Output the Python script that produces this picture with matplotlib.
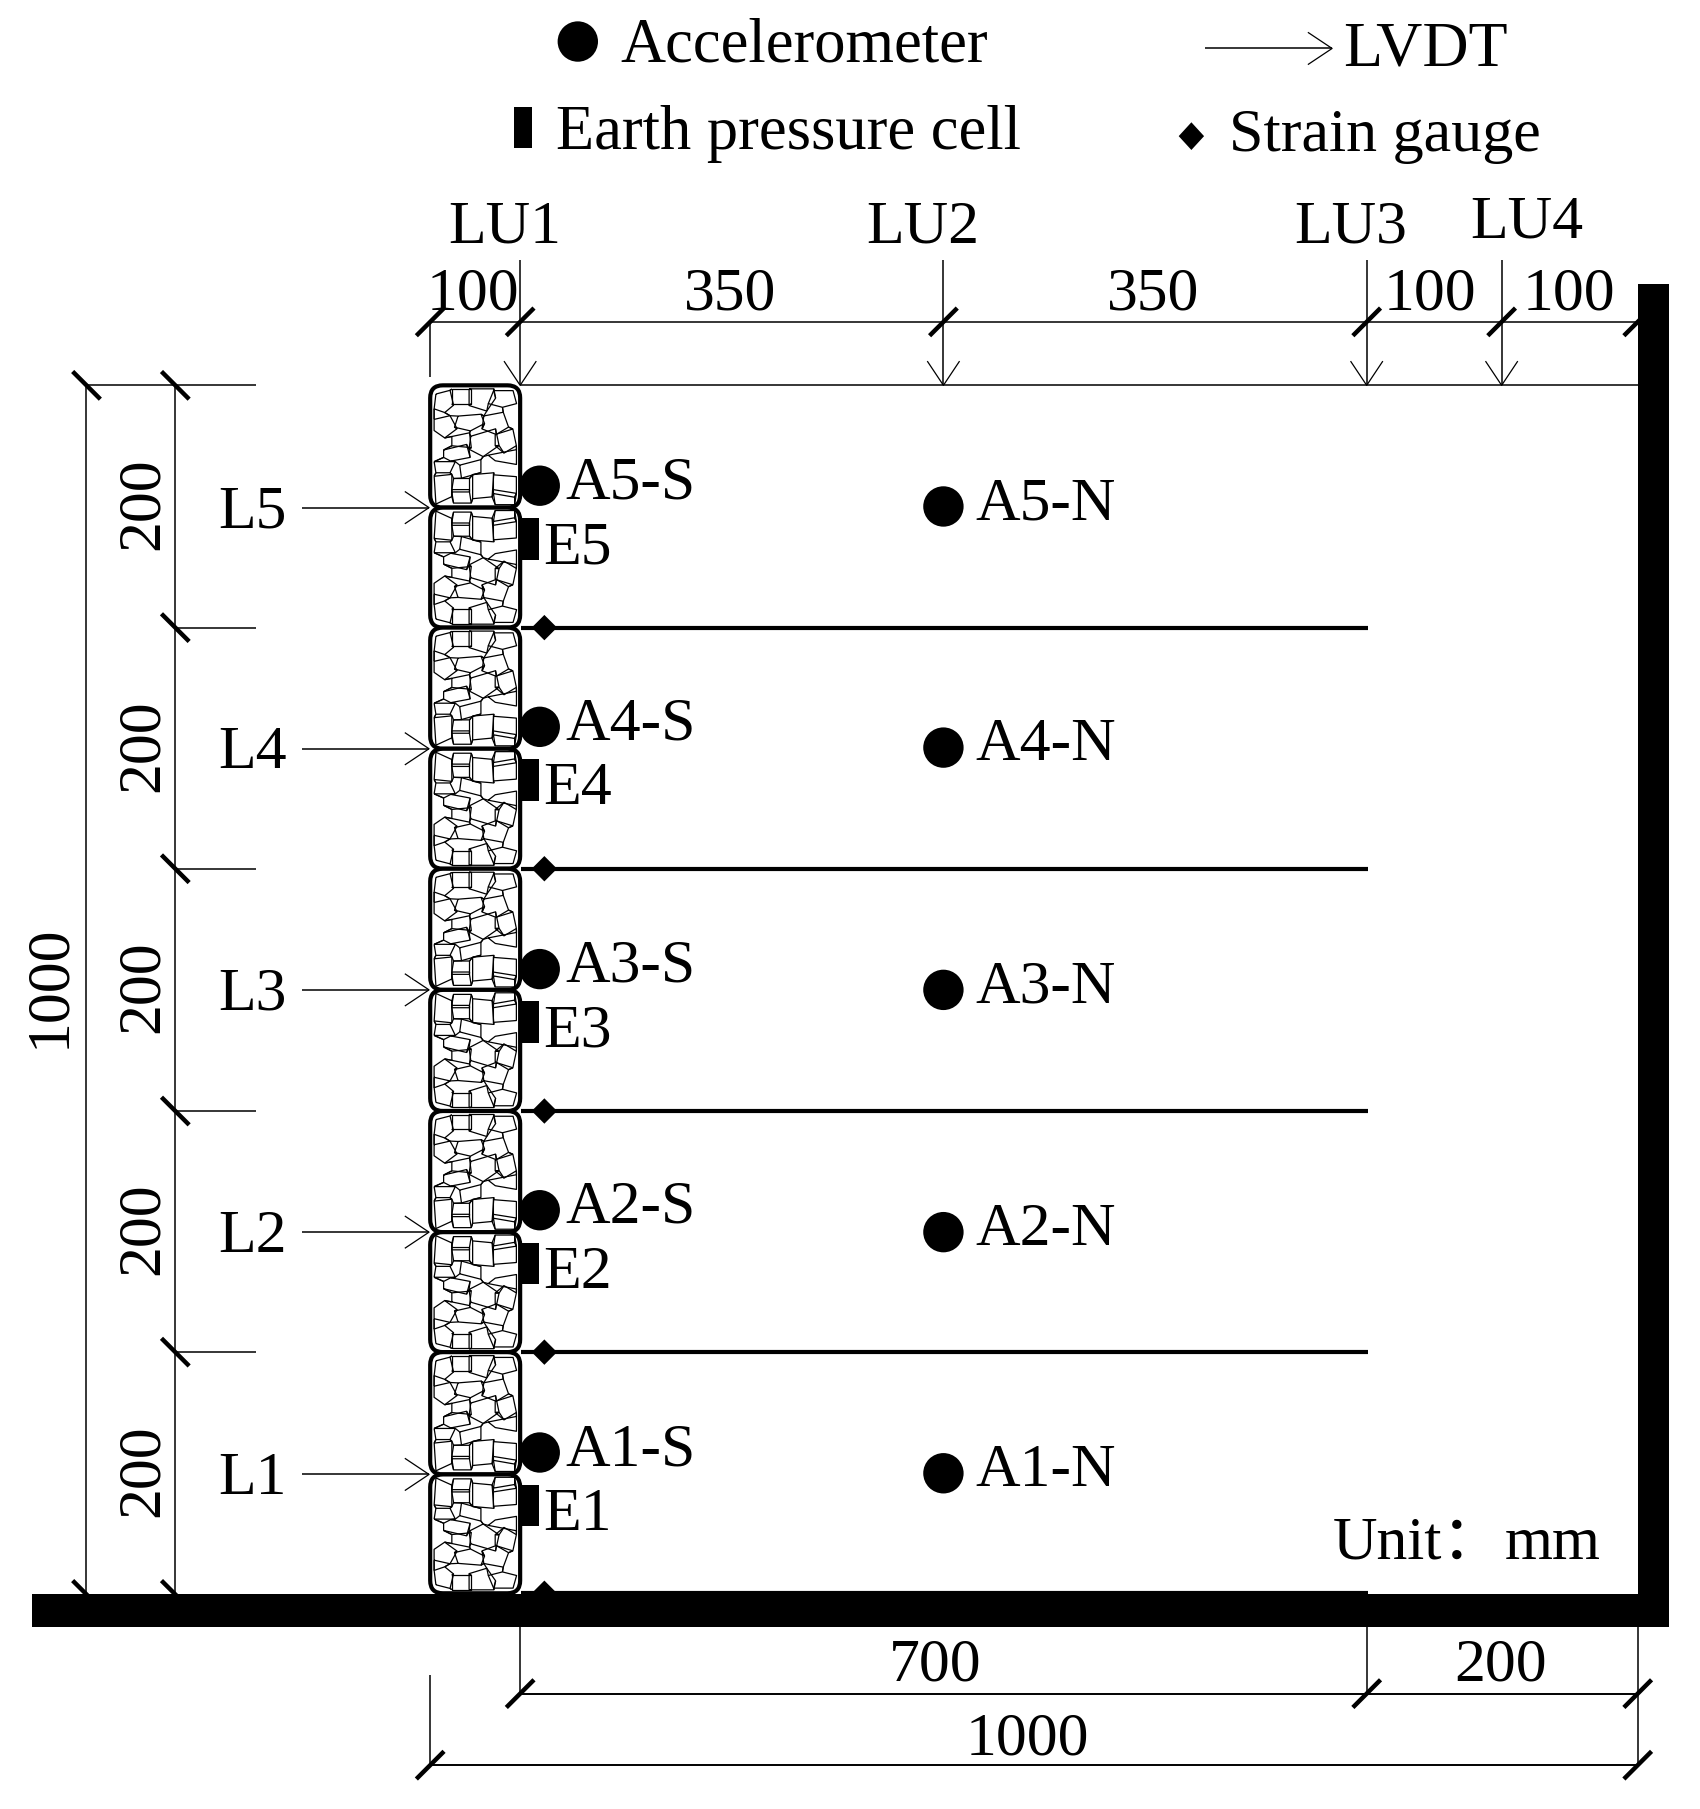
"""Gabion wall test section: instrument layout sketch."""
import matplotlib

matplotlib.use("Agg")
import matplotlib.pyplot as plt
from matplotlib.collections import LineCollection
from matplotlib.patches import Circle, FancyBboxPatch, Polygon, Rectangle

plt.rcParams["font.family"] = ["Liberation Serif", "Noto Sans CJK SC"]

WIDTH, HEIGHT = 1474, 1568  # drawing units, about 1.153 px each

# wall block edges and instrument levels
block_edges = [334, 440, 544, 649, 753, 858, 963, 1068, 1172, 1278, 1381]
layer_lines = [544, 753, 963, 1172, 1381]
lvdt_levels = [1278, 1068, 858, 649, 440]
lvdt_names = ["L1", "L2", "L3", "L4", "L5"]
accel_s_levels = [1259, 1049, 840, 630, 421]
accel_n_levels = [1277, 1068, 858, 648, 439]
accel_s_names = ["A1-S", "A2-S", "A3-S", "A4-S", "A5-S"]
accel_n_names = ["A1-N", "A2-N", "A3-N", "A4-N", "A5-N"]
cell_tops = [1287, 1077, 868, 658, 449]
cell_names = ["E1", "E2", "E3", "E4", "E5"]

# top dimensions
lu_x = [451, 818, 1185, 1302]
lu_names = ["LU1", "LU2", "LU3", "LU4"]
lu_text_x = [438, 800, 1171, 1324]
lu_text_y = [210, 210, 210, 206]
top_dim_ticks = [373, 451, 818, 1185, 1302, 1420]
top_dim_labels = ["100", "350", "350", "100", "100"]
top_dim_text_x = [410, 633, 1000, 1240, 1360]

# stones of one block, outline points in zoomed block coordinates (280 x 363)
stones = [
    [(20, 28), (60, 18), (70, 58), (45, 78), (15, 68)],
    [(70, 13), (125, 13), (125, 53), (70, 53)],
    [(125, 13), (195, 13), (200, 38), (175, 73), (125, 58)],
    [(200, 18), (255, 18), (265, 53), (225, 63), (185, 53)],
    [(90, 93), (155, 88), (165, 113), (125, 133), (80, 123)],
    [(15, 103), (60, 93), (80, 128), (45, 153), (15, 133)],
    [(170, 93), (225, 83), (240, 123), (205, 143), (165, 128)],
    [(70, 153), (120, 143), (125, 183), (70, 178)],
    [(130, 153), (200, 133), (210, 178), (165, 208), (125, 188)],
    [(205, 148), (255, 133), (265, 178), (230, 198), (205, 178)],
    [(45, 193), (110, 178), (120, 213), (65, 223), (45, 213)],
    [(185, 208), (265, 193), (265, 233), (205, 223)],
    [(15, 228), (75, 228), (60, 258), (20, 258)],
    [(95, 238), (155, 223), (155, 258), (100, 273)],
    [(15, 273), (65, 268), (65, 328), (20, 348)],
    [(135, 268), (195, 263), (190, 328), (135, 333)],
    [(75, 278), (120, 278), (120, 308), (70, 308)],
    [(70, 318), (120, 318), (125, 348), (75, 348)],
    [(200, 268), (265, 273), (265, 318), (200, 308)],
    [(200, 323), (260, 333), (260, 353), (205, 353)],
]

# legend
legend_text = ["Accelerometer", "LVDT", "Earth pressure cell", "Strain gauge"]
legend_text_x = [538, 1165, 482, 1066]
legend_text_y = [53, 57, 129, 131]
legend_sizes = [45, 46, 45, 44.7]

BLACK = "#000000"
FS = 44.5

fig = plt.figure(figsize=(17.0, 18.09), dpi=100)
ax = fig.add_axes([0, 0, 1, 1])
ax.set_xlim(0, WIDTH)
ax.set_ylim(HEIGHT, 0)
ax.axis("off")


def thin(xs, ys, lw=1.1):
    ax.plot(xs, ys, color=BLACK, lw=lw, solid_capstyle="butt", zorder=2)


def tick(x, y, back=False):
    d = 12
    sign = -1 if back else 1
    thin([x - d, x + d], [y + sign * d, y - sign * d], lw=3.2)


def head(x, y, direction):
    # open arrow head, tip at x, y
    a, b = 21, 14
    if direction == "down":
        thin([x - b, x, x + b], [y - a, y, y - a], lw=0.9)
    else:
        thin([x - a, x, x - a], [y - b, y, y + b], lw=0.9)


def label(x, y, s, size=FS, ha="left", rotation=0, va="baseline"):
    ax.text(x, y, s, fontsize=size, ha=ha, va=va, rotation=rotation, color=BLACK,
            rotation_mode="anchor", zorder=5)


def stone_segments():
    # outlines grown a little, plus ties between nearby stones, so they read as a mesh
    segs = []
    grown = []
    for stone in stones:
        cx = sum(p[0] for p in stone) / len(stone)
        cy = sum(p[1] for p in stone) / len(stone)
        pts = [(cx + (p[0] - cx) * 1.1, cy + (p[1] - cy) * 1.1) for p in stone]
        grown.append(pts)
        segs.append(pts + [pts[0]])
    for i, pts in enumerate(grown):
        for p in pts:
            best = None
            for j, other in enumerate(grown):
                if j == i:
                    continue
                for q in other:
                    dist = (p[0] - q[0]) ** 2 + (p[1] - q[1]) ** 2
                    if best is None or dist < best[0]:
                        best = (dist, q)
            if best[0] < 35 ** 2:
                segs.append([p, best[1]])
    return segs


MESH = stone_segments()


def gabion(top, bottom, flip):
    x0, x1 = 373, 451
    ax.add_patch(FancyBboxPatch((x0, top), x1 - x0, bottom - top,
                                boxstyle="round,pad=0,rounding_size=11",
                                fc="white", ec=BLACK, lw=3.0, zorder=4))
    sx = (x1 - x0) / 280
    sy = (bottom - top) / 363
    segs = []
    for seg in MESH:
        pts = []
        for px, py in seg:
            yy = bottom - py * sy if flip else top + py * sy
            pts.append((x0 + px * sx, yy))
        segs.append(pts)
    ax.add_collection(LineCollection(segs, colors=BLACK, linewidths=0.9, zorder=4))


# floor and wall
ax.add_patch(Rectangle((28, 1382), 1419, 28, fc=BLACK, ec="none", zorder=6))
ax.add_patch(Rectangle((1420, 246), 27, 1164, fc=BLACK, ec="none", zorder=6))

# gabion column
for i in range(len(block_edges) - 1):
    gabion(block_edges[i], block_edges[i + 1], i % 2 == 1)

# soil surface, top dimension line
thin([451, 1420], [334, 334])
thin([373, 1420], [279, 279])
thin([373, 373], [279, 327])
for x in lu_x:
    thin([x, x], [225, 334])
    head(x, 334, "down")
for x in top_dim_ticks:
    tick(x, 279)
for x, y, s in zip(lu_text_x, lu_text_y, lu_names):
    label(x, y, s, ha="center")
for x, s in zip(top_dim_text_x, top_dim_labels):
    label(x, 268, s, ha="center")

# left dimensions
thin([75, 75], [334, 1382])
thin([152, 152], [334, 1382])
thin([75, 222], [334, 334])
tick(75, 334, back=True)
tick(75, 1382, back=True)
tick(152, 334, back=True)
tick(152, 1382, back=True)
for y in layer_lines[:-1]:
    thin([152, 222], [y, y])
    tick(152, y, back=True)
label(43, 855, "1000", ha="center", rotation=90, va="center")
for y in lvdt_levels:
    label(124, y - 3, "200", ha="center", rotation=90, va="center")

# reinforcement layers with strain gauges
for y in layer_lines:
    thin([452, 1186], [y, y], lw=3.0)
    ax.add_patch(Polygon([(472, y - 11), (483, y), (472, y + 11), (461, y)],
                         fc=BLACK, ec="none", zorder=4))

# LVDTs
for y, s in zip(lvdt_levels, lvdt_names):
    thin([262, 372], [y, y])
    head(372, y, "right")
    label(219, y + 17, s, ha="center")

# accelerometers and pressure cells
for y, s in zip(accel_s_levels, accel_s_names):
    ax.add_patch(Circle((468, y), 17.5, fc=BLACK, ec="none", zorder=5))
    label(490, y + 11, s)
for y, s in zip(accel_n_levels, accel_n_names):
    ax.add_patch(Circle((818, y), 17.5, fc=BLACK, ec="none", zorder=5))
    label(846, y + 11, s)
for y, s in zip(cell_tops, cell_names):
    ax.add_patch(Rectangle((452, y), 15, 36, fc=BLACK, ec="none", zorder=5))
    label(471, y + 39, s)

# bottom dimensions
thin([451, 451], [1410, 1468])
thin([1185, 1185], [1382, 1468])
thin([1420, 1420], [1410, 1530])
thin([373, 373], [1452, 1530])
thin([451, 1420], [1468, 1468], lw=1.4)
thin([373, 1420], [1530, 1530], lw=1.4)
for x in [451, 1185, 1420]:
    tick(x, 1468)
for x in [373, 1420]:
    tick(x, 1530)
label(811, 1457, "700", ha="center")
label(1301, 1457, "200", ha="center")
label(891, 1521, "1000", ha="center")
label(1156, 1351, "Unit：")
label(1305, 1351, "mm")

# legend
ax.add_patch(Circle((501, 36), 17.5, fc=BLACK, ec="none"))
thin([1045, 1155], [42, 42])
head(1155, 42, "right")
ax.add_patch(Rectangle((446, 93), 15, 35, fc=BLACK, ec="none"))
ax.add_patch(Polygon([(1033, 106), (1044, 118), (1033, 130), (1022, 118)], fc=BLACK, ec="none"))
for x, y, s, size in zip(legend_text_x, legend_text_y, legend_text, legend_sizes):
    label(x, y, s, size=size)

fig.savefig("out.png", dpi=100, facecolor="white")
